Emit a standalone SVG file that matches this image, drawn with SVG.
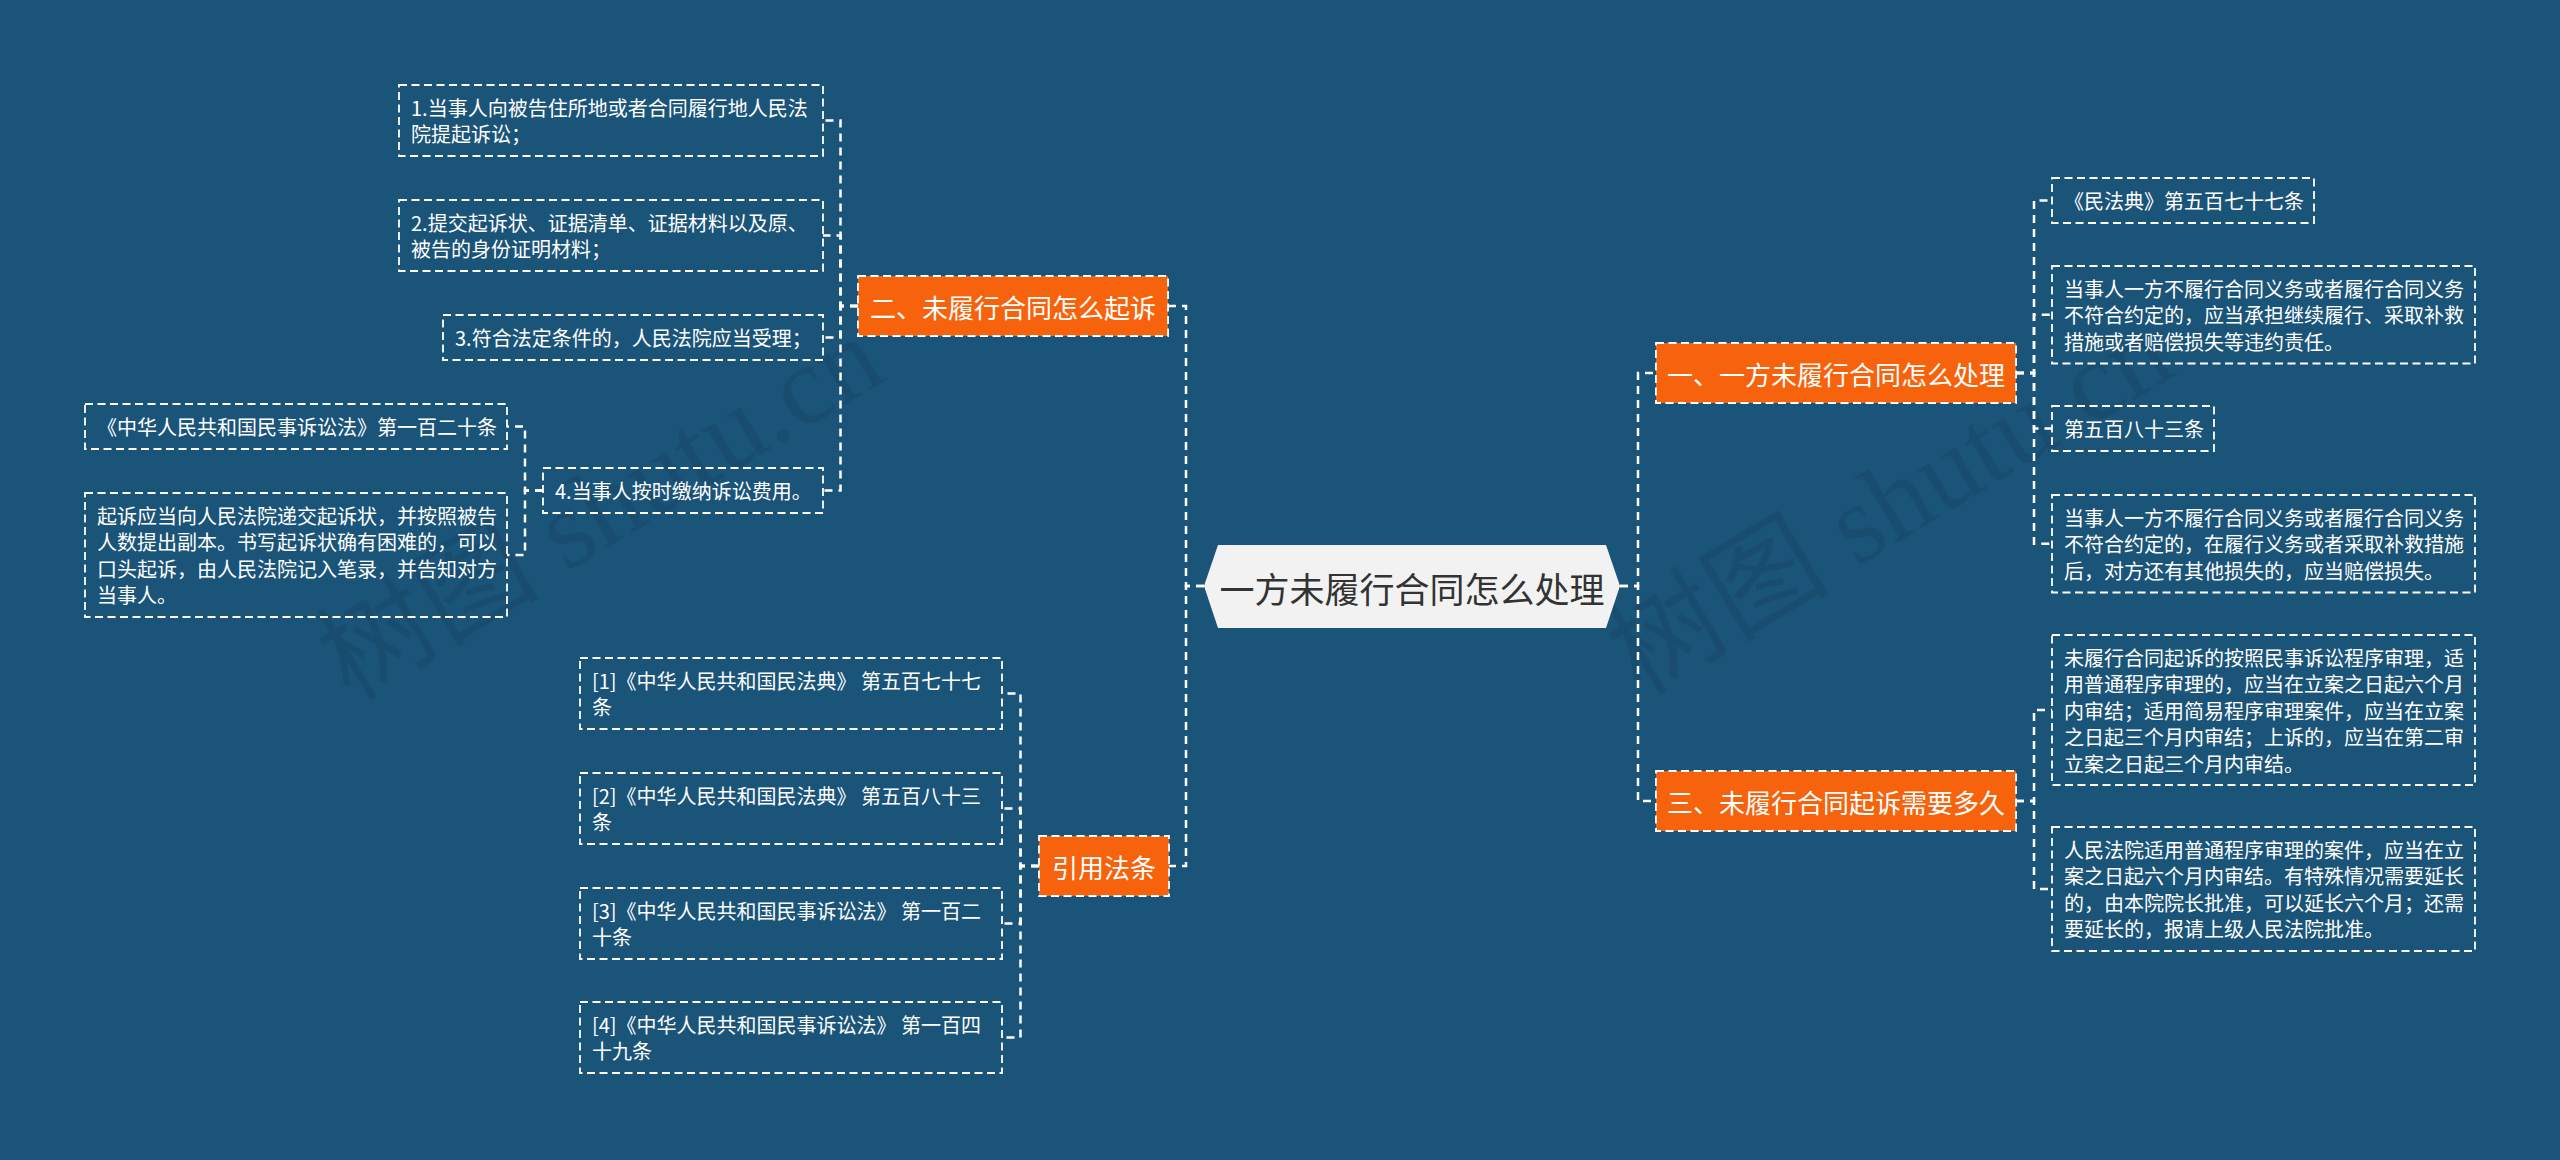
<svg xmlns="http://www.w3.org/2000/svg" width="2560" height="1160" viewBox="0 0 2560 1160">
<style>
.bg{fill:#1b5479}
.wm{font-family:"Liberation Serif","Noto Sans CJK SC",serif;font-size:112px;fill:#000;fill-opacity:0.08}
.con{fill:none;stroke:#fff;stroke-width:2.5;stroke-dasharray:8 6}
.box{fill:none;stroke:#fff;stroke-width:1.8;stroke-dasharray:8 4.5}
.l1{fill:#f7630c;stroke:#fff;stroke-width:1.8;stroke-dasharray:8 4.5}
.t{font-family:"Noto Sans CJK SC","Liberation Sans",sans-serif;font-size:20px;fill:#fff}
.t1{font-family:"Noto Sans CJK SC","Liberation Sans",sans-serif;font-size:26px;fill:#fff;text-anchor:middle;dominant-baseline:central}
.tc{font-family:"Noto Sans CJK SC","Liberation Sans",sans-serif;font-size:35px;fill:#333;text-anchor:middle;dominant-baseline:central}
</style>
<rect class="bg" x="0" y="0" width="2560" height="1160"/>
<g id="watermarks">
<text class="wm" transform="translate(350,702) rotate(-31)">树图 shutu.cn</text>
<text class="wm" transform="translate(1640,697) rotate(-31)">树图 shutu.cn</text>
</g>
<g id="connectors">
<path class="con" d="M1204,586 H1186 V306 H1168"/>
<path class="con" d="M1204,586 H1186 V866 H1169"/>
<path class="con" d="M1620,586 H1638 V373 H1656"/>
<path class="con" d="M1620,586 H1638 V801 H1656"/>
<path class="con" d="M858,306 H840.5 V120.5 H823"/>
<path class="con" d="M858,306 H840.5 V235.5 H823"/>
<path class="con" d="M858,306 H840.5 V337.5 H823"/>
<path class="con" d="M858,306 H840.5 V490.5 H823"/>
<path class="con" d="M543,490.5 H525 V426.5 H507"/>
<path class="con" d="M543,490.5 H525 V555 H507"/>
<path class="con" d="M1039,866 H1020.5 V693.5 H1002"/>
<path class="con" d="M1039,866 H1020.5 V808.5 H1002"/>
<path class="con" d="M1039,866 H1020.5 V923.5 H1002"/>
<path class="con" d="M1039,866 H1020.5 V1037.5 H1002"/>
<path class="con" d="M2016,373 H2034 V200.5 H2052"/>
<path class="con" d="M2016,373 H2034 V314.75 H2052"/>
<path class="con" d="M2016,373 H2034 V428.5 H2052"/>
<path class="con" d="M2016,373 H2034 V543.75 H2052"/>
<path class="con" d="M2016,801 H2034 V710 H2052"/>
<path class="con" d="M2016,801 H2034 V889 H2052"/>
</g>
<g id="center">
<polygon points="1204,586 1218,545 1606,545 1620,586 1606,628 1218,628" fill="#f2f2f2"/>
<text class="tc" x="1412" y="587">一方未履行合同怎么处理</text>
</g>
<g id="n-er">
<rect class="l1" x="858" y="276" width="310" height="60"/>
<text class="t1" x="1013" y="306">二、未履行合同怎么起诉</text>
</g>
<g id="n-yin">
<rect class="l1" x="1039" y="836" width="130" height="60"/>
<text class="t1" x="1104" y="866">引用法条</text>
</g>
<g id="n-yi">
<rect class="l1" x="1656" y="343" width="360" height="60"/>
<text class="t1" x="1836" y="373">一、一方未履行合同怎么处理</text>
</g>
<g id="n-san">
<rect class="l1" x="1656" y="771" width="360" height="60"/>
<text class="t1" x="1836" y="801">三、未履行合同起诉需要多久</text>
</g>
<g id="b1">
<rect class="box" x="399" y="85" width="424" height="71"/>
<text class="t" x="411" y="115.5"><tspan x="411">1.当事人向被告住所地或者合同履行地人民法</tspan><tspan x="411" dy="26.5">院提起诉讼；</tspan></text>
</g>
<g id="b2">
<rect class="box" x="399" y="200" width="424" height="71"/>
<text class="t" x="411" y="230.5"><tspan x="411">2.提交起诉状、证据清单、证据材料以及原、</tspan><tspan x="411" dy="26.5">被告的身份证明材料；</tspan></text>
</g>
<g id="b3">
<rect class="box" x="443" y="315" width="380" height="45"/>
<text class="t" x="455" y="345.5">3.符合法定条件的，人民法院应当受理；</text>
</g>
<g id="b4">
<rect class="box" x="543" y="468" width="280" height="45"/>
<text class="t" x="555" y="498.5">4.当事人按时缴纳诉讼费用。</text>
</g>
<g id="c1">
<rect class="box" x="85" y="404" width="422" height="45"/>
<text class="t" x="97" y="434.5">《中华人民共和国民事诉讼法》第一百二十条</text>
</g>
<g id="c2">
<rect class="box" x="85" y="493" width="422" height="124"/>
<text class="t" x="97" y="523.5"><tspan x="97">起诉应当向人民法院递交起诉状，并按照被告</tspan><tspan x="97" dy="26.5">人数提出副本。书写起诉状确有困难的，可以</tspan><tspan x="97" dy="26.5">口头起诉，由人民法院记入笔录，并告知对方</tspan><tspan x="97" dy="26.5">当事人。</tspan></text>
</g>
<g id="d1">
<rect class="box" x="580" y="658" width="422" height="71"/>
<text class="t" x="592" y="688.5"><tspan x="592">[1]《中华人民共和国民法典》 第五百七十七</tspan><tspan x="592" dy="26.5">条</tspan></text>
</g>
<g id="d2">
<rect class="box" x="580" y="773" width="422" height="71"/>
<text class="t" x="592" y="803.5"><tspan x="592">[2]《中华人民共和国民法典》 第五百八十三</tspan><tspan x="592" dy="26.5">条</tspan></text>
</g>
<g id="d3">
<rect class="box" x="580" y="888" width="422" height="71"/>
<text class="t" x="592" y="918.5"><tspan x="592">[3]《中华人民共和国民事诉讼法》 第一百二</tspan><tspan x="592" dy="26.5">十条</tspan></text>
</g>
<g id="d4">
<rect class="box" x="580" y="1002" width="422" height="71"/>
<text class="t" x="592" y="1032.5"><tspan x="592">[4]《中华人民共和国民事诉讼法》 第一百四</tspan><tspan x="592" dy="26.5">十九条</tspan></text>
</g>
<g id="e1">
<rect class="box" x="2052" y="178" width="262" height="45"/>
<text class="t" x="2064" y="208.5">《民法典》第五百七十七条</text>
</g>
<g id="e2">
<rect class="box" x="2052" y="266" width="423" height="97.5"/>
<text class="t" x="2064" y="296.5"><tspan x="2064">当事人一方不履行合同义务或者履行合同义务</tspan><tspan x="2064" dy="26.5">不符合约定的，应当承担继续履行、采取补救</tspan><tspan x="2064" dy="26.5">措施或者赔偿损失等违约责任。</tspan></text>
</g>
<g id="e3">
<rect class="box" x="2052" y="406" width="162" height="45"/>
<text class="t" x="2064" y="436.5">第五百八十三条</text>
</g>
<g id="e4">
<rect class="box" x="2052" y="495" width="423" height="97.5"/>
<text class="t" x="2064" y="525.5"><tspan x="2064">当事人一方不履行合同义务或者履行合同义务</tspan><tspan x="2064" dy="26.5">不符合约定的，在履行义务或者采取补救措施</tspan><tspan x="2064" dy="26.5">后，对方还有其他损失的，应当赔偿损失。</tspan></text>
</g>
<g id="f1">
<rect class="box" x="2052" y="635" width="423" height="150"/>
<text class="t" x="2064" y="665.5"><tspan x="2064">未履行合同起诉的按照民事诉讼程序审理，适</tspan><tspan x="2064" dy="26.5">用普通程序审理的，应当在立案之日起六个月</tspan><tspan x="2064" dy="26.5">内审结；适用简易程序审理案件，应当在立案</tspan><tspan x="2064" dy="26.5">之日起三个月内审结；上诉的，应当在第二审</tspan><tspan x="2064" dy="26.5">立案之日起三个月内审结。</tspan></text>
</g>
<g id="f2">
<rect class="box" x="2052" y="827" width="423" height="124"/>
<text class="t" x="2064" y="857.5"><tspan x="2064">人民法院适用普通程序审理的案件，应当在立</tspan><tspan x="2064" dy="26.5">案之日起六个月内审结。有特殊情况需要延长</tspan><tspan x="2064" dy="26.5">的，由本院院长批准，可以延长六个月；还需</tspan><tspan x="2064" dy="26.5">要延长的，报请上级人民法院批准。</tspan></text>
</g>
</svg>
